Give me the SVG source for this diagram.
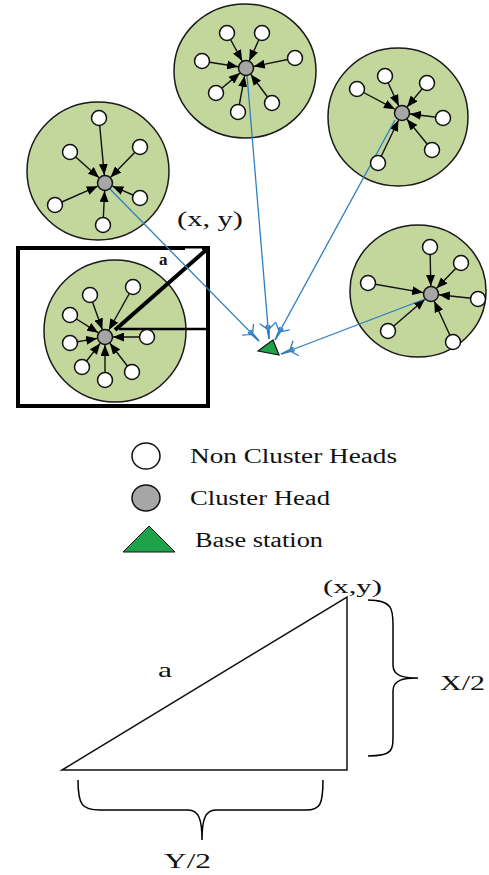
<svg xmlns="http://www.w3.org/2000/svg" width="489" height="875" viewBox="0 0 489 875">
<style>
.cl{fill:#c3d69b;stroke:#1a1a1a;stroke-width:1.5}
.nd{fill:#fff;stroke:#111;stroke-width:1.5}
.ch{fill:#a6a6a6;stroke:#111;stroke-width:1.5}
.ar{stroke:#111;stroke-width:1.4;fill:none;marker-end:url(#ah)}
.bl{stroke:#2e7dc1;stroke-width:1.3;fill:none;marker-end:url(#ob)}
.t{font-family:"Liberation Serif","Times New Roman",serif;fill:#111}
.k{stroke:#000;fill:none}
</style>
<defs>
<marker id="ah" markerUnits="userSpaceOnUse" markerWidth="11" markerHeight="9" refX="11" refY="4.5" orient="auto"><path d="M0,0 L11,4.5 L0,9 z" fill="#000"/></marker>
<marker id="ob" markerUnits="userSpaceOnUse" markerWidth="18" markerHeight="18" refX="17" refY="9" orient="auto" overflow="visible"><path d="M1,1 L6,7 L3,7.5 L17,9 L3,10.5 L6,11 L1,17" fill="none" stroke="#2e7dc1" stroke-width="1.3"/></marker>
</defs>

<g id="clusters-bg">
<ellipse class="cl" cx="245" cy="71" rx="71" ry="67"/>
<ellipse class="cl" cx="98" cy="171" rx="71" ry="69"/>
<ellipse class="cl" cx="115" cy="331" rx="71" ry="71"/>
<ellipse class="cl" cx="398" cy="117" rx="70" ry="69"/>
<ellipse class="cl" cx="418" cy="291" rx="68" ry="66"/>
</g>

<g id="region-box">
<rect x="18" y="248" width="190" height="158" fill="none" stroke="#000" stroke-width="4"/>
<rect x="185" y="248.5" width="17" height="3" fill="#fff"/>
<line x1="206" y1="250" x2="115" y2="330" stroke="#000" stroke-width="4"/>
<line x1="207" y1="329" x2="119" y2="329" stroke="#000" stroke-width="2.5"/>
<text class="t" x="159" y="265" font-size="17" font-weight="bold">a</text>
</g>

<g id="connectors">
<line class="ar" x1="227" y1="33" x2="242.2" y2="61"/>
<line class="ar" x1="262" y1="33" x2="249.3" y2="60.7"/>
<line class="ar" x1="202" y1="61" x2="238.1" y2="66.7"/>
<line class="ar" x1="295" y1="58" x2="253.8" y2="66.4"/>
<line class="ar" x1="216" y1="93" x2="239.9" y2="73.1"/>
<line class="ar" x1="272" y1="103" x2="250.8" y2="74.4"/>
<line class="ar" x1="238" y1="112" x2="244.6" y2="75.9"/>

<line class="ar" x1="99" y1="118" x2="104.3" y2="175"/>
<line class="ar" x1="140" y1="147" x2="110.6" y2="177.3"/>
<line class="ar" x1="70" y1="152" x2="99" y2="177.7"/>
<line class="ar" x1="55" y1="205" x2="97.7" y2="186.2"/>
<line class="ar" x1="140" y1="198" x2="112.4" y2="186.2"/>
<line class="ar" x1="103" y1="225" x2="104.6" y2="191"/>

<line class="ar" x1="90" y1="295" x2="102.3" y2="329.5"/>
<line class="ar" x1="133" y1="287" x2="108.9" y2="330"/>
<line class="ar" x1="70" y1="315" x2="98.2" y2="332.7"/>
<line class="ar" x1="70" y1="343" x2="97.1" y2="338.4"/>
<line class="ar" x1="147" y1="337" x2="113" y2="337"/>
<line class="ar" x1="82" y1="367" x2="100.1" y2="343.4"/>
<line class="ar" x1="105" y1="380" x2="105" y2="345"/>
<line class="ar" x1="132" y1="372" x2="109.9" y2="343.3"/>

<line class="ar" x1="385" y1="76" x2="398.7" y2="105.7"/>
<line class="ar" x1="427" y1="83" x2="407.1" y2="106.9"/>
<line class="ar" x1="357" y1="89" x2="394.9" y2="109.2"/>
<line class="ar" x1="443" y1="118" x2="409.9" y2="114"/>
<line class="ar" x1="432" y1="150" x2="407" y2="119.2"/>
<line class="ar" x1="378" y1="163" x2="398.5" y2="120.2"/>

<line class="ar" x1="430" y1="247" x2="430.8" y2="286"/>
<line class="ar" x1="461" y1="263" x2="436.6" y2="288.2"/>
<line class="ar" x1="368" y1="283" x2="423.1" y2="292.6"/>
<line class="ar" x1="478" y1="299" x2="439" y2="294.8"/>
<line class="ar" x1="388" y1="331" x2="424.9" y2="299.2"/>
<line class="ar" x1="453" y1="342" x2="434.3" y2="301.3"/>

<line class="bl" x1="247" y1="75" x2="269" y2="339"/>
<line class="bl" x1="108" y1="187" x2="259" y2="341"/>
<line class="bl" x1="395" y1="120" x2="275" y2="340"/>
<line class="bl" x1="425" y1="299" x2="281" y2="354"/>
</g>

<g id="cluster1">
<circle class="ch" cx="246" cy="68" r="7.5"/>
<circle class="nd" cx="227" cy="33" r="7.5"/>
<circle class="nd" cx="262" cy="33" r="7.5"/>
<circle class="nd" cx="202" cy="61" r="7.5"/>
<circle class="nd" cx="295" cy="58" r="7.5"/>
<circle class="nd" cx="216" cy="93" r="7.5"/>
<circle class="nd" cx="272" cy="103" r="7.5"/>
<circle class="nd" cx="238" cy="112" r="7.5"/>
</g>
<g id="cluster2">
<circle class="ch" cx="105" cy="183" r="7.5"/>
<circle class="nd" cx="99" cy="118" r="7.5"/>
<circle class="nd" cx="140" cy="147" r="7.5"/>
<circle class="nd" cx="70" cy="152" r="7.5"/>
<circle class="nd" cx="55" cy="205" r="7.5"/>
<circle class="nd" cx="140" cy="198" r="7.5"/>
<circle class="nd" cx="103" cy="225" r="7.5"/>
</g>
<g id="cluster3">
<circle class="ch" cx="105" cy="337" r="7.5"/>
<circle class="nd" cx="90" cy="295" r="7.5"/>
<circle class="nd" cx="133" cy="287" r="7.5"/>
<circle class="nd" cx="70" cy="315" r="7.5"/>
<circle class="nd" cx="70" cy="343" r="7.5"/>
<circle class="nd" cx="147" cy="337" r="7.5"/>
<circle class="nd" cx="82" cy="367" r="7.5"/>
<circle class="nd" cx="105" cy="380" r="7.5"/>
<circle class="nd" cx="132" cy="372" r="7.5"/>
</g>
<g id="cluster4">
<circle class="ch" cx="402" cy="113" r="7.5"/>
<circle class="nd" cx="385" cy="76" r="7.5"/>
<circle class="nd" cx="427" cy="83" r="7.5"/>
<circle class="nd" cx="357" cy="89" r="7.5"/>
<circle class="nd" cx="443" cy="118" r="7.5"/>
<circle class="nd" cx="432" cy="150" r="7.5"/>
<circle class="nd" cx="378" cy="163" r="7.5"/>
</g>
<g id="cluster5">
<circle class="ch" cx="431" cy="294" r="7.5"/>
<circle class="nd" cx="430" cy="247" r="7.5"/>
<circle class="nd" cx="461" cy="263" r="7.5"/>
<circle class="nd" cx="368" cy="283" r="7.5"/>
<circle class="nd" cx="478" cy="299" r="7.5"/>
<circle class="nd" cx="388" cy="331" r="7.5"/>
<circle class="nd" cx="453" cy="342" r="7.5"/>
</g>

<g id="base-station">
<polygon points="258,351 273,340 279,355" fill="#1fa34a" stroke="#111" stroke-width="1.2"/>
</g>

<g id="label-xy">
<text class="t" x="177" y="226" font-size="22" textLength="66" lengthAdjust="spacingAndGlyphs">(x, y)</text>
</g>

<g id="legend">
<ellipse class="nd" cx="146" cy="456" rx="14" ry="13"/>
<text class="t" x="190" y="463" font-size="20" textLength="207" lengthAdjust="spacingAndGlyphs">Non Cluster Heads</text>
<ellipse class="ch" cx="146" cy="498" rx="14" ry="13"/>
<text class="t" x="190" y="505" font-size="20" textLength="140" lengthAdjust="spacingAndGlyphs">Cluster Head</text>
<polygon points="123,552 149,526 175,552" fill="#1fa34a" stroke="#111" stroke-width="1"/>
<text class="t" x="195" y="547" font-size="20" textLength="128" lengthAdjust="spacingAndGlyphs">Base station</text>
</g>

<g id="triangle">
<polygon points="62,770 347,770 347,597" fill="none" stroke="#111" stroke-width="1.5"/>
<text class="t" x="323" y="593" font-size="19" textLength="59" lengthAdjust="spacingAndGlyphs">(x,y)</text>
<text class="t" x="158" y="677" font-size="22" textLength="14" lengthAdjust="spacingAndGlyphs">a</text>
<path class="k" stroke-width="1.5" d="M368,600 C393,600 393,610 393,625 L393,665 C393,676 403,678 418,678 C403,678 393,680 393,691 L393,735 C393,750 393,756 368,756"/>
<text class="t" x="440" y="690" font-size="20" textLength="45" lengthAdjust="spacingAndGlyphs">X/2</text>
<path class="k" stroke-width="1.5" d="M78,780 C78,805 82,810 100,810 L188,810 C199,810 202,820 202,840 C202,820 205,810 216,810 L306,810 C320,810 323,805 323,780"/>
<text class="t" x="164" y="868" font-size="21" textLength="47" lengthAdjust="spacingAndGlyphs">Y/2</text>
</g>
</svg>
